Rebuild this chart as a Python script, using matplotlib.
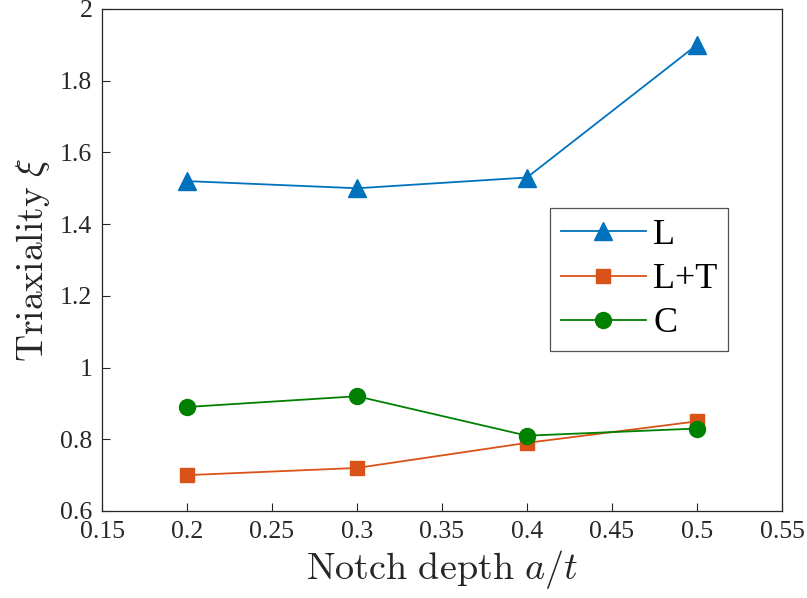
import matplotlib
matplotlib.use("Agg")
import matplotlib.pyplot as plt

# notch depth a/t and triaxiality per loading case
depth = [0.2, 0.3, 0.4, 0.5]
xi_L = [1.52, 1.50, 1.53, 1.90]
xi_LT = [0.70, 0.72, 0.79, 0.85]
xi_C = [0.89, 0.92, 0.81, 0.83]
xticks = [0.15, 0.2, 0.25, 0.3, 0.35, 0.4, 0.45, 0.5, 0.55]
yticks = [0.6, 0.8, 1, 1.2, 1.4, 1.6, 1.8, 2]

plt.rcParams['font.family'] = ['Liberation Serif', 'DejaVu Serif']
plt.rcParams['mathtext.fontset'] = 'cm'
ink = '#262626'

fig = plt.figure(figsize=(8.07, 5.98), dpi=100)
ax = fig.add_axes([0.1264, 0.1455, 0.8426, 0.8395])

ax.plot(depth, xi_L, color='#0072BD', lw=1.3, marker='^', ms=13, label='L')
ax.plot(depth, xi_LT, color='#D95319', lw=1.3, marker='s', ms=10, label='L+T')
ax.plot(depth, xi_C, color='#008000', lw=1.3, marker='o', ms=11.5, label='C')

ax.set_xlim(0.15, 0.55)
ax.set_ylim(0.6, 2)
ax.set_xticks(xticks)
ax.set_xticklabels([('%g' % v) for v in xticks])
ax.set_yticks(yticks)
ax.set_yticklabels([('%g' % v) for v in yticks])
ax.tick_params(direction='in', length=6, width=0.8, colors=ink, labelsize=18.5,
               top=False, right=False, pad=7)
for s in ax.spines.values():
    s.set_color(ink)
    s.set_linewidth(0.9)

ax.set_xlabel(r'$\mathrm{Notch\ depth}\ a/t$', fontsize=27.5, color=ink, labelpad=4)
ax.set_ylabel(r'$\mathrm{Triaxiality}\ \xi$', fontsize=27, color=ink, labelpad=6)

leg = ax.legend(loc='upper left', bbox_to_anchor=(0.659, 0.6036), fontsize=26,
                frameon=True, fancybox=False, edgecolor=ink, handlelength=2.35,
                borderpad=0.3, labelspacing=0.3, handletextpad=0.2,
                borderaxespad=0)
leg.get_frame().set_linewidth(0.9)

fig.savefig('out.png', dpi=100)
